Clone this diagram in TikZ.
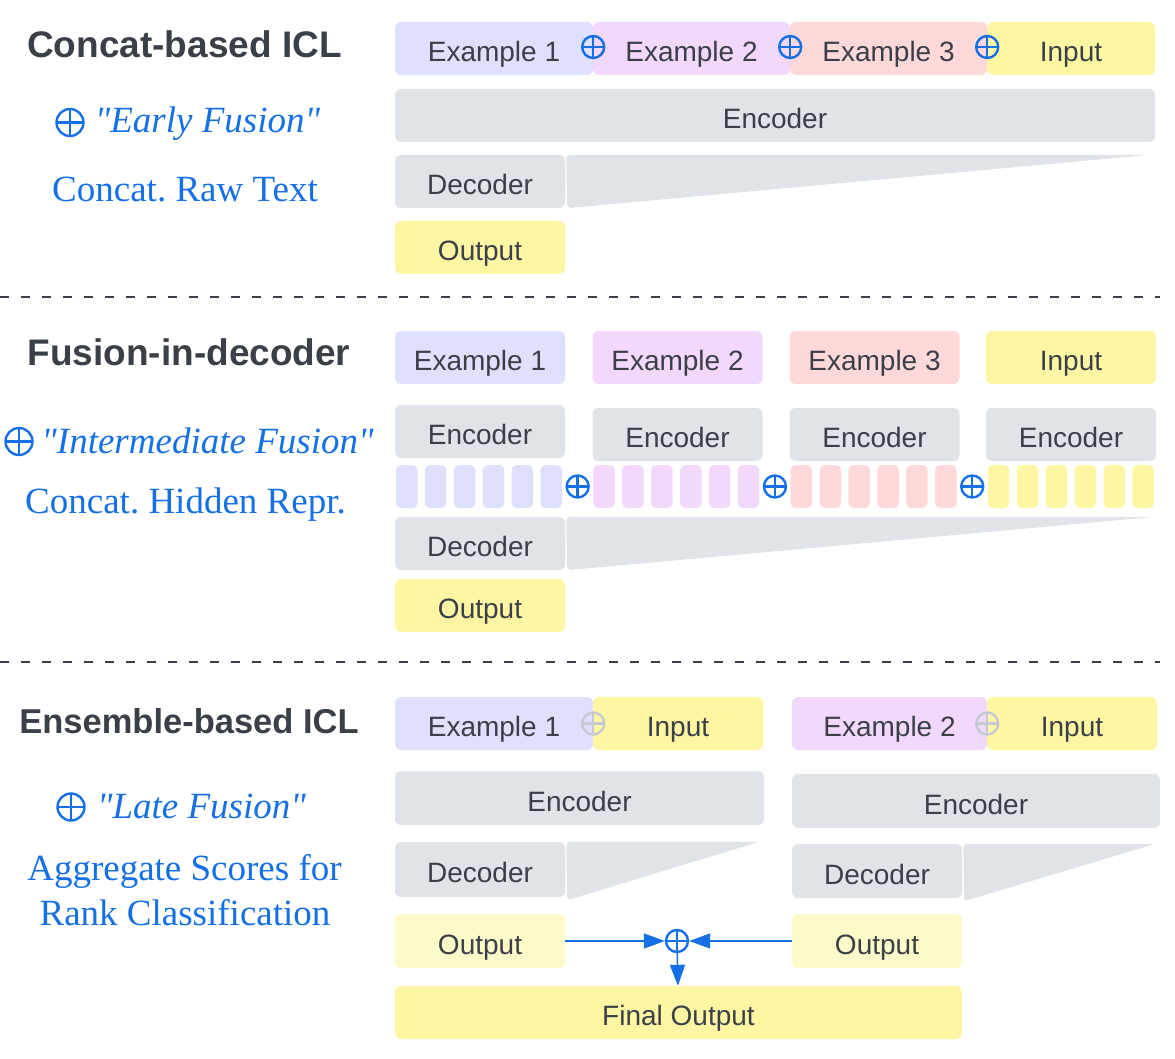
\documentclass[tikz,border=0pt]{standalone}
\usepackage{fontspec}
\setmainfont{Liberation Serif}[Ligatures=TeXOff]
\setsansfont{Liberation Sans}
\usepackage{xcolor}
\usepackage{tikz}
\usetikzlibrary{arrows.meta,positioning,calc}
\frenchspacing

\definecolor{txtgray}{HTML}{3A3F48}
\definecolor{fuseblue}{HTML}{1570E6}
\definecolor{exone}{HTML}{DFE0FD}
\definecolor{extwo}{HTML}{F2D9FC}
\definecolor{exthree}{HTML}{FFD9D9}
\definecolor{inyellow}{HTML}{FFF6A3}
\definecolor{outpale}{HTML}{FDFAC9}
\definecolor{encgray}{HTML}{E0E3E7}
\definecolor{plusgray}{HTML}{C4C9D4}

\begin{document}
\begin{tikzpicture}[x=1pt, y=-1pt,
  blk/.style={rounded corners=6pt, inner sep=0pt, text=txtgray, minimum height=53pt,
    font=\sffamily\fontsize{28}{30}\selectfont, text height=26pt, text depth=0pt},
  token/.style={rounded corners=5pt, inner sep=0pt, minimum width=21.5pt, minimum height=43pt},
  title/.style={anchor=base, text=txtgray, font=\sffamily\bfseries\fontsize{37}{40}\selectfont},
  note/.style={anchor=base, text=fuseblue, font=\fontsize{37}{40}\selectfont},
  oplus/.style={circle, draw=#1, line width=2.4pt, minimum size=22pt, inner sep=0pt,
    path picture={\draw[#1, line width=2.4pt]
      (path picture bounding box.north) -- (path picture bounding box.south)
      (path picture bounding box.west) -- (path picture bounding box.east);}},
  oplus/.default=fuseblue,
  bigplus/.style={oplus, minimum size=27pt},
  sep/.style={txtgray, line width=2pt, dash pattern=on 9pt off 12pt},
  fusearrow/.style={-{Triangle[length=21pt,width=15pt]}, fuseblue, line width=1.5pt}
]
\useasboundingbox (0,0) rectangle (1175,1059);

% ---------- Concat-based ICL ----------
\node[title] (t1) at (184.5,58) {Concat-based ICL};
\node[bigplus] (p1) at (70,122.5) {};
\node[note] (f1) at (207.5,133) {\itshape "Early Fusion"};
\node[note] (d1) at (185,202) {Concat. Raw Text};

\node[blk, fill=exone, minimum width=198pt] (s1exa) at (494,48.5) {Example 1};
\node[blk, fill=extwo, minimum width=197pt] (s1exb) at (691.5,48.5) {Example 2};
\node[blk, fill=exthree, minimum width=197pt] (s1exc) at (888.5,48.5) {Example 3};
\node[blk, fill=inyellow, minimum width=168pt] (s1in) at (1071,48.5) {Input};
\foreach \n in {s1exa,s1exb,s1exc}
  \node[oplus] at ([yshift=1.5pt]\n.east) {};
\node[blk, fill=encgray, minimum width=760pt] (s1enc) at (775,115.5) {Encoder};
\node[blk, fill=encgray, minimum width=170pt] (s1dec) at (480,181.5) {Decoder};
\fill[encgray, rounded corners=4pt] ([xshift=1pt]s1dec.north east) -- ($(s1dec.north east)+(585,0)$)
  -- ([xshift=2pt]s1dec.south east) -- cycle;
\node[blk, fill=inyellow, minimum width=170pt] (s1out) at (480,247.5) {Output};

\draw[sep] (0,297) -- (1160,297);

% ---------- Fusion-in-decoder ----------
\node[title] (t2) at (189,365) {Fusion-in-decoder};
\node[bigplus] (p2) at (19,441.5) {};
\node[note] (f2) at (207.5,453) {\itshape "Intermediate Fusion"};
\node[note] (d2) at (185.5,513) {Concat. Hidden Repr.};

\node[blk, fill=exone, minimum width=170pt] (s2exa) at (480,357.5) {Example 1};
\node[blk, fill=extwo, minimum width=170pt] (s2exb) at (677.5,357.5) {Example 2};
\node[blk, fill=exthree, minimum width=170pt] (s2exc) at (874.5,357.5) {Example 3};
\node[blk, fill=inyellow, minimum width=170pt] (s2in) at (1071,357.5) {Input};
\node[blk, fill=encgray, minimum width=170pt] (s2enca) at (480,431.5) {Encoder};
\foreach \x [count=\i] in {677.5,874.5,1071}
  \node[blk, fill=encgray, minimum width=170pt] (s2enc\i) at (\x,434.5) {Encoder};
% hidden tokens
\foreach \c [count=\g from 0] in {exone,extwo,exthree,inyellow}
  \foreach \t in {0,...,5}
    \node[token, fill=\c] (tok\g\t) at ({395+197.3*\g+11.75+28.9*\t},486.5) {};
\foreach \a/\b in {0/1,1/2,2/3}
  \node[oplus] at ($(tok\a5.east)!0.5!(tok\b0.west)$) {};
\node[blk, fill=encgray, minimum width=170pt] (s2dec) at (480,543.5) {Decoder};
\fill[encgray, rounded corners=4pt] ([xshift=1pt]s2dec.north east) -- ($(s2dec.north east)+(590,0)$)
  -- ([xshift=2pt]s2dec.south east) -- cycle;
\node[blk, fill=inyellow, minimum width=170pt] (s2out) at (480,605.5) {Output};

\draw[sep] (0,662) -- (1160,662);

% ---------- Ensemble-based ICL ----------
\node[title, font=\sffamily\bfseries\fontsize{34.5}{38}\selectfont] (t3) at (189,733) {Ensemble-based ICL};
\node[bigplus] (p3) at (71,807) {};
\node[note] (f3) at (201.5,818) {\itshape "Late Fusion"};
\node[note] (d3) at (184.5,880) {Aggregate Scores for};
\node[note] (d4) at (185,925) {Rank Classification};

\node[blk, fill=exone, minimum width=198pt] (s3exa) at (494,723.5) {Example 1};
\node[blk, fill=inyellow, minimum width=170pt] (s3ina) at (678,723.5) {Input};
\node[blk, fill=extwo, minimum width=195pt] (s3exb) at (889.5,723.5) {Example 2};
\node[blk, fill=inyellow, minimum width=170pt] (s3inb) at (1072,723.5) {Input};
\node[oplus=plusgray] at (s3exa.east) {};
\node[oplus=plusgray] at (s3exb.east) {};
\node[blk, fill=encgray, minimum width=369pt, minimum height=54pt] (s3enca) at (579.5,798) {Encoder};
\node[blk, fill=encgray, minimum width=368pt, minimum height=54pt] (s3encb) at (976,801) {Encoder};
\node[blk, fill=encgray, minimum width=170pt, minimum height=55pt] (s3deca) at (480,869.5) {Decoder};
\node[blk, fill=encgray, minimum width=170pt, minimum height=54pt] (s3decb) at (877,871) {Decoder};
\fill[encgray, rounded corners=4pt] ([xshift=1pt]s3deca.north east) -- ($(s3deca.north east)+(194,0)$)
  -- ([xshift=2pt,yshift=-3pt]s3deca.south east) -- cycle;
\fill[encgray, rounded corners=4pt] ([xshift=1pt]s3decb.north east) -- ($(s3decb.north east)+(193,0)$)
  -- ([xshift=2pt,yshift=-3pt]s3decb.south east) -- cycle;
\node[blk, fill=outpale, minimum width=170pt, minimum height=54pt] (s3outa) at (480,941) {Output};
\node[blk, fill=outpale, minimum width=170pt, minimum height=54pt] (s3outb) at (877,941) {Output};
\node[oplus] (sum) at (677,941) {};
\node[blk, fill=inyellow, minimum width=567pt] (final) at (678.5,1012.5) {Final Output};

\draw[fusearrow] (s3outa) -- (sum);
\draw[fusearrow] (s3outb) -- (sum);
\draw[fusearrow] (sum) -- (final);
\end{tikzpicture}
\end{document}
